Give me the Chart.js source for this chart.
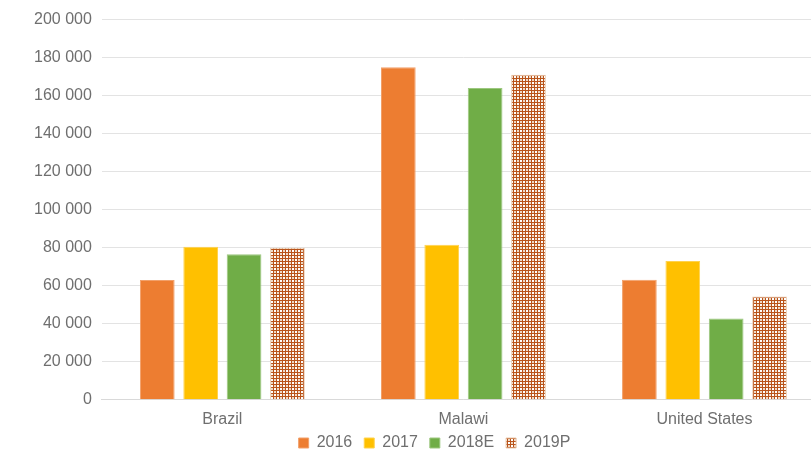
<!DOCTYPE html>
<html>
<head>
<meta charset="utf-8">
<script src="https://cdn.jsdelivr.net/npm/chart.js@4.4.0/dist/chart.umd.min.js"></script>
<style>
html, body { margin: 0; padding: 0; background: #ffffff; overflow: hidden; }
#wrap { width: 811px; height: 459px; position: relative; overflow: hidden; }
</style>
</head>
<body>
<div id="wrap"><canvas id="canvas" width="825" height="459"></canvas></div>
<script>
const paises = ["Brazil", "Malawi", "United States"];
const etiquetasSerie = ["2016", "2017", "2018E", "2019P"];
const datos2016 = [63000, 175000, 63200];
const datos2017 = [80500, 81500, 73000];
const datos2018E = [76500, 164000, 42800];
const datos2019P = [80000, 171000, 54300];
const ticksY = [0, 20000, 40000, 60000, 80000, 100000, 120000, 140000, 160000, 180000, 200000];

function patronCuadros(){
    // patron marron a cuadros para la serie 2019P
    const c = document.createElement("canvas");
    c.width = 6; c.height = 6;
    const g = c.getContext("2d");
    g.fillStyle = "#efd9c4";
    g.fillRect(0, 0, 6, 6);
    g.fillStyle = "#b9531a";
    g.fillRect(0, 0, 6, 1);
    g.fillRect(0, 3, 6, 1);
    g.fillRect(0, 0, 1, 6);
    g.fillRect(3, 0, 1, 6);
    g.fillStyle = "#ffffff";
    g.fillRect(1, 1, 2, 2);
    g.fillRect(4, 4, 2, 2);
    return g.createPattern(c, "repeat");
}

function formatoMiles(v){
    return String(v).replace(/\B(?=(\d{3})+(?!\d))/g, " ");
}

// acerca la leyenda a las etiquetas del eje x
const ajusteLeyenda = {
    id: "ajusteLeyenda",
    afterLayout(chart){
        const l = chart.legend;
        const dy = (chart.height - 36) - l.top;
        l.top += dy; l.bottom += dy;
        l.left += 10; l.right += 10;
    }
};

const patron = patronCuadros();
const ctx = document.getElementById("canvas").getContext("2d");
const comun = { barPercentage: 0.8, categoryPercentage: 0.72, borderWidth: 1 };
const fuente = { family: "Liberation Sans", size: 16 };
const colorTexto = "#6f6f6f";

new Chart(ctx, {
    type: "bar",
    data: {
        labels: paises,
        datasets: [
            Object.assign({ label: etiquetasSerie[0], data: datos2016, backgroundColor: "#ed7d31", borderColor: "#f2a06a" }, comun),
            Object.assign({ label: etiquetasSerie[1], data: datos2017, backgroundColor: "#ffc000", borderColor: "#ffd24d" }, comun),
            Object.assign({ label: etiquetasSerie[2], data: datos2018E, backgroundColor: "#70ad47", borderColor: "#9cc77f" }, comun),
            Object.assign({ label: etiquetasSerie[3], data: datos2019P, backgroundColor: patron, borderColor: "#e9c9ad" }, comun)
        ]
    },
    options: {
        responsive: false,
        animation: false,
        layout: { padding: { left: 24, right: 0, top: 2, bottom: 0 } },
        scales: {
            x: {
                grid: { display: false },
                border: { color: "#d9d9d9" },
                ticks: { color: colorTexto, font: fuente, padding: 2 }
            },
            y: {
                min: 0,
                max: 200000,
                afterBuildTicks: axis => { axis.ticks = ticksY.map(v => ({ value: v })); },
                grid: { color: "#e3e3e3", drawTicks: false },
                border: { display: false },
                ticks: {
                    color: colorTexto,
                    font: fuente,
                    padding: 10,
                    callback: v => formatoMiles(v)
                }
            }
        },
        plugins: {
            legend: {
                position: "bottom",
                maxHeight: 28,
                labels: {
                    color: colorTexto,
                    font: fuente,
                    boxWidth: 10,
                    boxHeight: 10,
                    padding: 12
                }
            },
            tooltip: { enabled: false }
        }
    },
    plugins: [ajusteLeyenda]
});
</script>
</body>
</html>
